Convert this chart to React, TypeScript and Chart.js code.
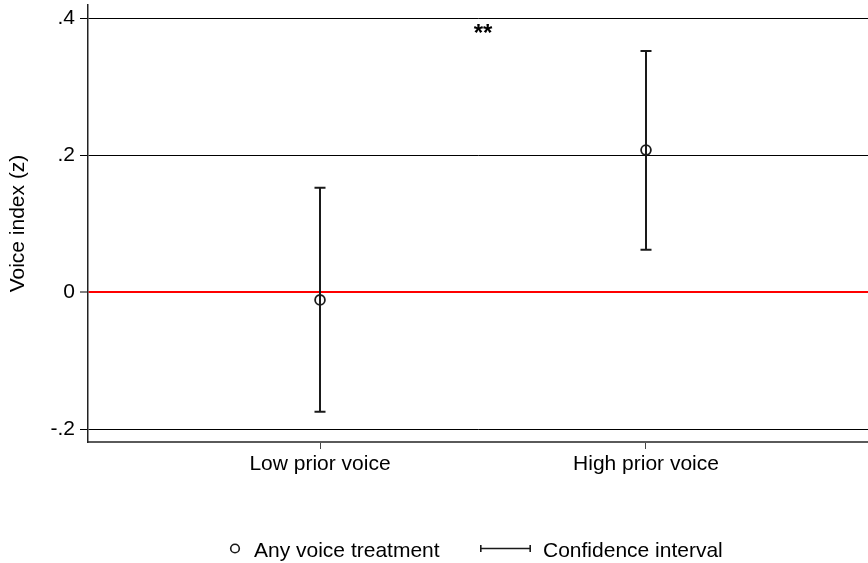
import React, { useEffect, useRef } from "react";
import { Chart, registerables } from "chart.js";

Chart.register(...registerables);

// ---- data ----
const categories = ["Low prior voice", "High prior voice"];
const categoryX = [1, 2];
const pointEstimates = [-0.011, 0.2075];
const ciLow = [-0.174, 0.062];
const ciHigh = [0.1525, 0.352];
const yTickValues = [-0.2, 0, 0.2, 0.4];
const yTickLabels = ["-.2", "0", ".2", ".4"];
const yAxisTitle = "Voice index (z)";
const sigText = "**";
const sigX = 1.5;
const sigY = 0.366;
const legendLabels = ["Any voice treatment", "Confidence interval"];

const FONT = "'Liberation Sans', Arial, Helvetica, sans-serif";
const INK = "#1a1a1a";

const overlayPlugin = {
  id: "overlay",
  beforeDatasetsDraw(chart: any) {
    const { ctx, scales } = chart;
    const xs = scales.x;
    const ys = scales.y;
    ctx.save();
    ctx.strokeStyle = INK;
    ctx.lineWidth = 2;
    for (let i = 0; i < categoryX.length; i++) {
      const px = Math.round(xs.getPixelForValue(categoryX[i]));
      const yl = ys.getPixelForValue(ciLow[i]);
      const yh = ys.getPixelForValue(ciHigh[i]);
      ctx.beginPath();
      ctx.moveTo(px, yl);
      ctx.lineTo(px, yh);
      ctx.moveTo(px - 5.5, yl);
      ctx.lineTo(px + 5.5, yl);
      ctx.moveTo(px - 5.5, yh);
      ctx.lineTo(px + 5.5, yh);
      ctx.stroke();
    }
    ctx.restore();
  },
  afterDraw(chart: any) {
    const { ctx, scales } = chart;
    ctx.save();
    // significance stars
    ctx.fillStyle = "#000";
    ctx.font = `bold 24px ${FONT}`;
    ctx.textAlign = "center";
    ctx.textBaseline = "alphabetic";
    ctx.fillText(sigText, scales.x.getPixelForValue(sigX), scales.y.getPixelForValue(sigY));

    // legend
    ctx.font = `21px ${FONT}`;
    const ly = 548.5;
    ctx.strokeStyle = INK;
    ctx.lineWidth = 1.6;
    ctx.beginPath();
    ctx.arc(235, ly, 4.3, 0, Math.PI * 2);
    ctx.stroke();
    ctx.textAlign = "left";
    ctx.fillText(legendLabels[0], 254, 556.5);

    ctx.lineWidth = 1.6;
    ctx.beginPath();
    ctx.moveTo(480, ly);
    ctx.lineTo(531, ly);
    ctx.moveTo(480.8, ly - 3.5);
    ctx.lineTo(480.8, ly + 3.5);
    ctx.moveTo(530.2, ly - 3.5);
    ctx.lineTo(530.2, ly + 3.5);
    ctx.stroke();
    ctx.fillText(legendLabels[1], 543, 556.5);
    ctx.restore();
  },
};

export default function App() {
  const ref = useRef<HTMLCanvasElement | null>(null);

  useEffect(() => {
    if (!ref.current) return;
    Chart.defaults.font.family = FONT;
    Chart.defaults.color = "#000";
    const chart = new Chart(ref.current, {
      type: "scatter",
      data: {
        datasets: [
          {
            label: legendLabels[0],
            data: categoryX.map((x, i) => ({ x, y: pointEstimates[i] })),
            pointStyle: "circle",
            pointRadius: 4.9,
            pointBorderWidth: 1.8,
            borderColor: INK,
            backgroundColor: "rgba(0,0,0,0)",
            showLine: false,
            clip: false,
          },
        ],
      },
      options: {
        animation: false,
        responsive: false,
        devicePixelRatio: 1,
        events: [],
        layout: { autoPadding: false, padding: { top: 5, right: 0, bottom: 0, left: 0 } },
        plugins: {
          legend: { display: false },
          tooltip: { enabled: false },
        },
        scales: {
          x: {
            type: "linear",
            min: 0.2883,
            max: 2.681,
            afterBuildTicks: (s: any) => {
              s.ticks = categoryX.map((v) => ({ value: v }));
            },
            afterFit: (s: any) => {
              s.height = 121;
              s.paddingLeft = 0;
              s.paddingRight = 0;
            },
            ticks: {
              font: { size: 21 },
              color: "#000",
              padding: 3,
              maxRotation: 0,
              autoSkip: false,
              callback: (v: any) => {
                const i = categoryX.indexOf(Number(v));
                return i >= 0 ? categories[i] : "";
              },
            },
            grid: {
              drawOnChartArea: false,
              drawTicks: true,
              tickLength: 7,
              color: "#444",
              lineWidth: 1,
            },
            border: { display: true, color: "#5a5a5a", width: 2 },
          },
          y: {
            type: "linear",
            min: -0.21823,
            max: 0.41896,
            afterBuildTicks: (s: any) => {
              s.ticks = yTickValues.map((v) => ({ value: v }));
            },
            afterFit: (s: any) => {
              s.width = 88;
              s.paddingTop = 0;
              s.paddingBottom = 0;
            },
            ticks: {
              font: { size: 21 },
              color: "#000",
              padding: 5,
              callback: (v: any) => {
                const i = yTickValues.findIndex((t) => Math.abs(t - Number(v)) < 1e-9);
                return i >= 0 ? yTickLabels[i] : "";
              },
            },
            grid: {
              drawOnChartArea: true,
              drawTicks: true,
              tickLength: 8,
              color: (c: any) => (c.tick && Math.abs(c.tick.value) < 1e-9 ? "#ff0000" : "#000"),
              lineWidth: (c: any) => (c.tick && Math.abs(c.tick.value) < 1e-9 ? 2 : 1),
              tickColor: "#000",
              tickWidth: 1,
            },
            border: { display: true, color: "#222", width: 1.5 },
            title: {
              display: true,
              text: yAxisTitle,
              font: { size: 21 },
              color: "#000",
              padding: { top: 6, bottom: 0 },
            },
          },
        },
      },
      plugins: [overlayPlugin],
    } as any);
    return () => chart.destroy();
  }, []);

  return (
    <div style={{ position: "absolute", left: 0, top: 0, width: 868, height: 563, background: "#fff" }}>
      <canvas ref={ref} width={868} height={563} style={{ display: "block" }} />
    </div>
  );
}
